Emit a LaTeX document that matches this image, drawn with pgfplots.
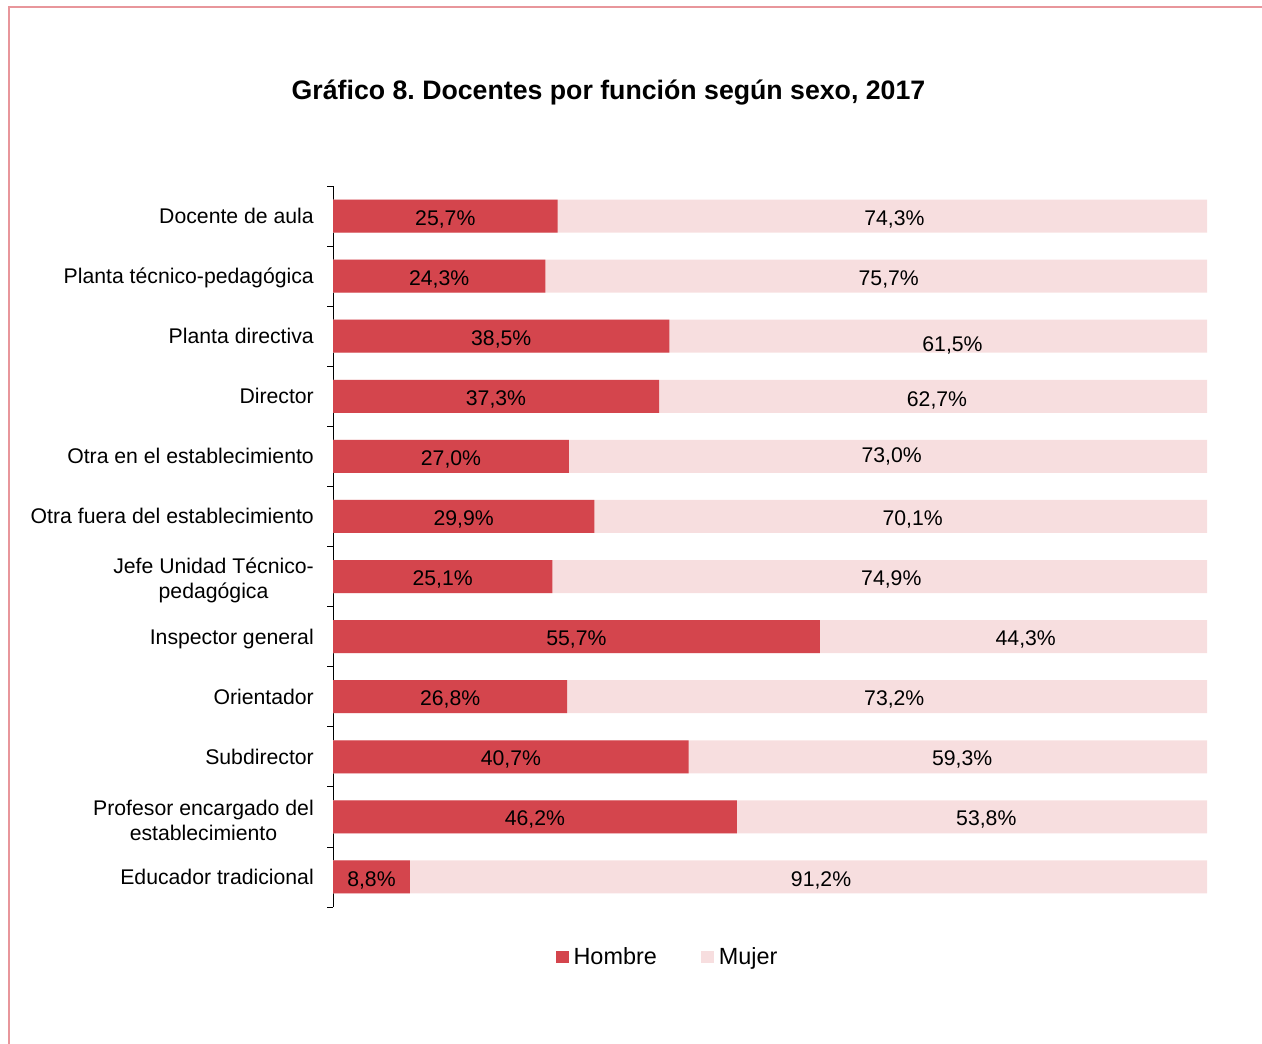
\documentclass[border=0pt]{standalone}
\usepackage{pgfplots}
\pgfplotsset{compat=1.18}
\usepackage{pgfplotstable}
\usepackage{fontspec}
\setmainfont{Liberation Sans}
\frenchspacing
\definecolor{hombre}{RGB}{212,69,77}
\definecolor{mujer}{RGB}{247,222,223}
\definecolor{marco}{RGB}{232,150,155}

\pgfplotstableread{
y h m hlab mlab mx mdy
0 25.7 74.3 25,7 74,3 64.24 0
1 24.3 75.7 24,3 75,7 63.59 0
2 38.5 61.5 38,5 61,5 70.88 0.10
3 37.3 62.7 37,3 62,7 69.11 0.025
4 27.0 73.0 27,0 73,0 63.92 -0.055
5 29.9 70.1 29,9 70,1 66.33 0
6 25.1 74.9 25,1 74,9 63.88 0
7 55.7 44.3 55,7 44,3 79.26 0
8 26.8 73.2 26,8 73,2 64.22 0
9 40.7 59.3 40,7 59,3 71.99 0
10 46.2 53.8 46,2 53,8 74.75 0
11 8.8 91.2 8,8 91,2 55.84 0
}\datatable

\begin{document}
\begin{tikzpicture}
\path[use as bounding box] (0,0) rectangle (1262bp,1044bp);
\draw[marco, line width=1.4bp] (9bp,0) -- (9bp,1037bp) -- (1262bp,1037bp);
\node[font=\fontsize{26.8}{30}\selectfont\bfseries, anchor=base, inner sep=0pt] at (608.5bp,944bp) {Gráfico 8. Docentes por función según sexo, 2017};
\begin{axis}[
  at={(333bp,137bp)}, anchor=south west,
  scale only axis, width=874bp, height=721bp,
  xmin=0, xmax=100, ymin=-0.5, ymax=11.5, y dir=reverse,
  axis x line=none, axis y line*=left,
  ytick={0,...,11},
  yticklabels={Docente de aula, Planta técnico-pedagógica, Planta directiva, Director, Otra en el establecimiento, Otra fuera del establecimiento, {Jefe Unidad Técnico-\\pedagógica}, Inspector general, Orientador, Subdirector, {Profesor encargado del\\establecimiento}, Educador tradicional},
  typeset ticklabels with strut,
  major tick length=0pt,
  minor ytick={-0.5,0.5,...,11.5},
  minor tick length=6bp,
  tick align=outside,
  tick style={black, line width=0.8bp},
  axis line style={black, line width=0.8bp},
  yticklabel style={font=\fontsize{21.3}{25}\selectfont, align=center, inner sep=0pt, xshift=-19bp, yshift=-2.5bp},
  legend style={at={(axis description cs:0.3827,-0.069)}, anchor=center, draw=none, fill=none,
    font=\fontsize{23.5}{28}\selectfont, inner sep=0pt,
    /tikz/every odd column/.append style={column sep=3bp},
    /tikz/every even column/.append style={column sep=42bp},
    nodes={inner sep=2bp}},
  legend columns=2,
  legend image code/.code={\fill[#1] (0bp,-6bp) rectangle (13bp,6bp);},
]
\addlegendimage{fill=hombre, draw=none}
\addlegendentry{Hombre}
\addlegendimage{fill=mujer, draw=none}
\addlegendentry{Mujer}

\addplot[xbar, bar width=33bp, bar shift=0pt, fill=mujer, draw=none, forget plot]
  table[x expr=\thisrow{h}+\thisrow{m}, y=y]{\datatable};
\addplot[xbar, bar width=33bp, bar shift=0pt, fill=hombre, draw=none, forget plot]
  table[x=h, y=y]{\datatable};

\addplot[draw=none, mark=none, forget plot, point meta=explicit symbolic,
  nodes near coords={\pgfplotspointmeta\%},
  every node near coord/.append style={anchor=center, inner sep=0pt, yshift=-3bp, font=\fontsize{21.3}{25}\selectfont}]
  table[x expr=\thisrow{h}/2, y=y, meta=hlab]{\datatable};
\addplot[draw=none, mark=none, forget plot, point meta=explicit symbolic,
  nodes near coords={\pgfplotspointmeta\%},
  every node near coord/.append style={anchor=center, inner sep=0pt, yshift=-3bp, font=\fontsize{21.3}{25}\selectfont}]
  table[x=mx, y expr=\thisrow{y}+\thisrow{mdy}, meta=mlab]{\datatable};
\end{axis}
\end{tikzpicture}
\end{document}
